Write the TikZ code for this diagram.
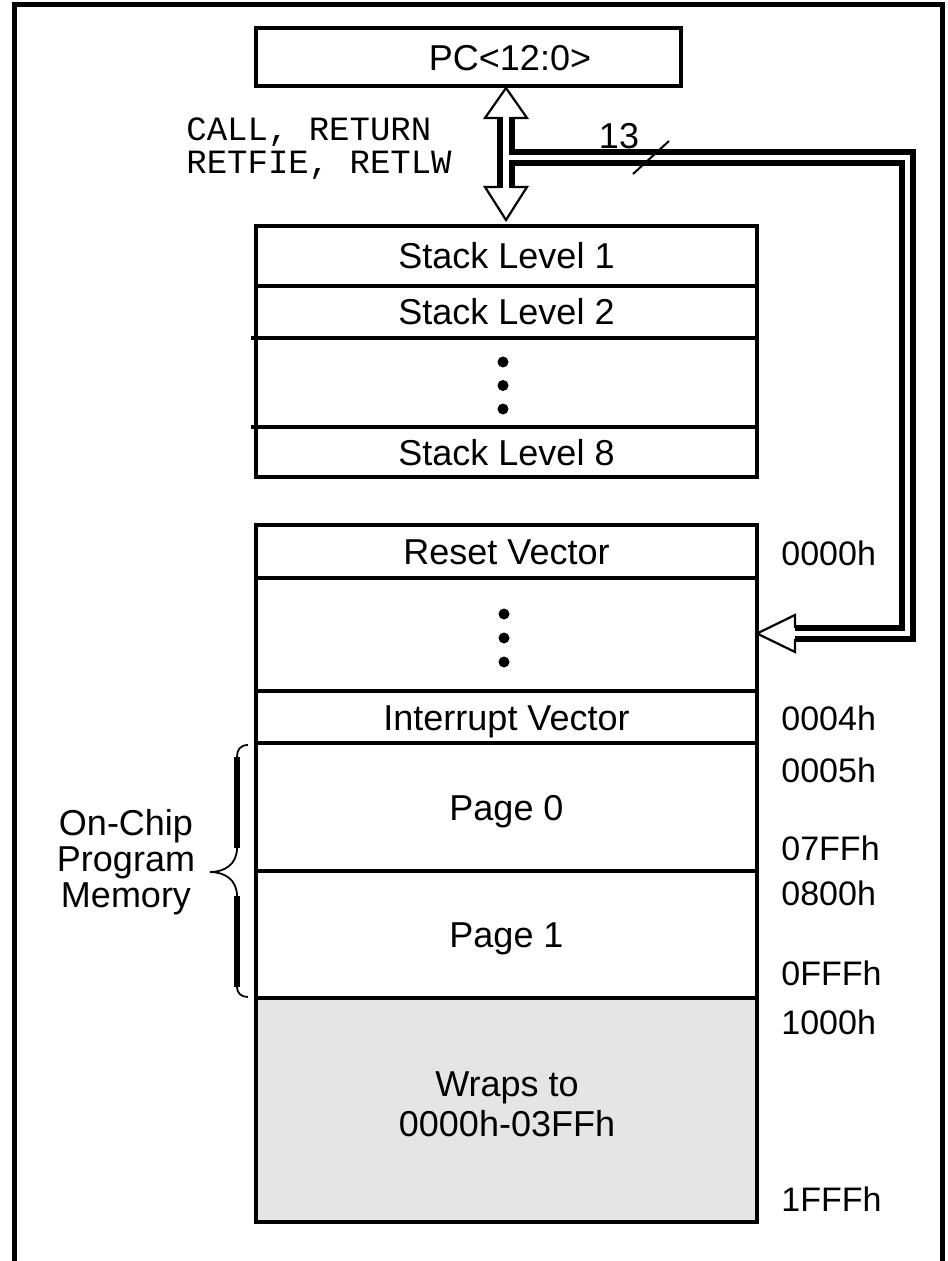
\documentclass[tikz,border=0pt]{standalone}
\usepackage{fontspec}
\setmainfont{Liberation Sans}
\newfontfamily\codefont{Liberation Mono}
\newcommand\celltxt{\fontsize{18}{18}\selectfont}
\newcommand\addrtxt{\fontsize{17}{17}\selectfont}
\begin{document}
\begin{tikzpicture}[x=0.5pt,y=-0.5pt,
  cell/.style={draw, line width=2pt, inner sep=0pt, outer sep=0pt,
    anchor=north west, minimum width=250.5pt, font=\celltxt,
    text height=13pt, text depth=0pt},
  lbl/.style={inner sep=0pt, font=\celltxt, text height=13pt, text depth=0pt},
  addr/.style={anchor=west, inner sep=0pt, font=\addrtxt, text height=12.2pt, text depth=0pt},
  dot/.style={circle, fill, inner sep=0pt, minimum size=5.5pt},
  bus/.style={line width=2.6pt},
  head/.style={line width=1.1pt, line join=miter},
  brace/.style={line width=2.8pt},
  curl/.style={line width=0.9pt},
  frame/.style={line width=2.5pt}]
\useasboundingbox (0,0) rectangle (947,1261);

% outer frame
\draw[frame] (14.5,1270) -- (14.5,5) -- (942.5,5) -- (942.5,1270);

% program counter
\node[cell, minimum width=212.5pt, minimum height=29pt] (pc) at (256,28) {};
\node[lbl] (pctext) at (510,58) {PC<12:0>};

% stack
\node[cell, minimum height=30pt]   (s1) at (256,226) {Stack Level 1};
\node[cell, minimum height=26pt]   (s2) at (256,286) {Stack Level 2};
\node[cell, minimum height=44.5pt] (sd) at (256,338) {};
\node[cell, minimum height=25pt]   (s8) at (256,427) {Stack Level 8};
\draw[line width=2pt] (251,338) -- (sd.north west);
\draw[line width=2pt] (251,427) -- (s8.north west);
\node[dot] (sd1) at (503,362) {};
\node[dot] (sd2) at (503,385.5) {};
\node[dot] (sd3) at (503,409) {};

% program memory map
\node[cell, minimum height=26.5pt] (rv) at (256,525) {Reset Vector};
\node[cell, minimum height=56.5pt] (vd) at (256,578) {};
\node[cell, minimum height=26pt]   (iv) at (256,691) {Interrupt Vector};
\node[cell, minimum height=64pt]   (p0) at (256,743) {Page 0};
\node[cell, minimum height=63.5pt] (p1) at (256,871) {Page 1};
\node[cell, minimum height=112pt, fill={rgb,255:red,229;green,229;blue,229}] (wr) at (256,998) {};
\node[lbl] (wr1) at (507,1083) {Wraps to};
\node[lbl] (wr2) at (507,1123) {0000h-03FFh};
\node[dot] (vd1) at (504,614) {};
\node[dot] (vd2) at (504,638) {};
\node[dot] (vd3) at (504,662) {};

% addresses
\node[addr] (a0) at (781,553)  {0000h};
\node[addr] (a4) at (781,718)  {0004h};
\node[addr] (a5) at (781,770)  {0005h};
\node[addr] (a7) at (781,848)  {07FFh};
\node[addr] (a8) at (781,893)  {0800h};
\node[addr] (af) at (781,973)  {0FFFh};
\node[addr] (ah) at (781,1022) {1000h};
\node[addr] (az) at (781,1199) {1FFFh};

% instructions moving PC to and from the stack
\node[anchor=west, inner sep=0pt, align=left, font=\codefont\fontsize{17}{16.5}\selectfont]
  (ops) at (186,148.5) {CALL, RETURN\\RETFIE, RETLW};

% two-way bus between PC and stack
\coordinate (ut) at (506,88);
\coordinate (bt) at (506,220);
\draw[head] (500,118) -- (485,118) -- (ut) -- (527,118) -- (512,118);
\draw[head] (500,187) -- (485,187) -- (bt) -- (527,187) -- (512,187);
\draw[bus] (500,117) -- (500,188);

% 13-bit bus from PC to the program memory
\coordinate (rt) at (vd.east |- 0,633.5);
\draw[bus] (512,117) -- (512,152) -- (913,152) -- (913,639) -- (795,639);
\draw[bus] (512,188) -- (512,163) -- (902,163) -- (902,628) -- (795,628);
\draw[head] (795,628) -- (795,615) -- (rt) -- (795,652) -- (795,639);
\draw[line width=1pt] (633,174) -- (669,141);
\node[lbl] (w13) at (619,136) {13};

% brace over the on-chip pages
\draw[curl] (p0.north west) ++(-8,2) .. controls (240,745) and (237,750) .. (237,757);
\draw[brace] (237,757) -- (237,848);
\draw[curl] (237,848) .. controls (237,864) and (225,872) .. (210,872)
  .. controls (225,872) and (237,880) .. (237,896);
\draw[brace] (237,896) -- (237,987);
\draw[curl] (237,987) .. controls (237,993) and (241,997) .. (248,997);
\node[align=center, inner sep=0pt, font=\fontsize{18}{18}\selectfont] (ocm) at (126,862) {On-Chip\\Program\\Memory};
\end{tikzpicture}
\end{document}
